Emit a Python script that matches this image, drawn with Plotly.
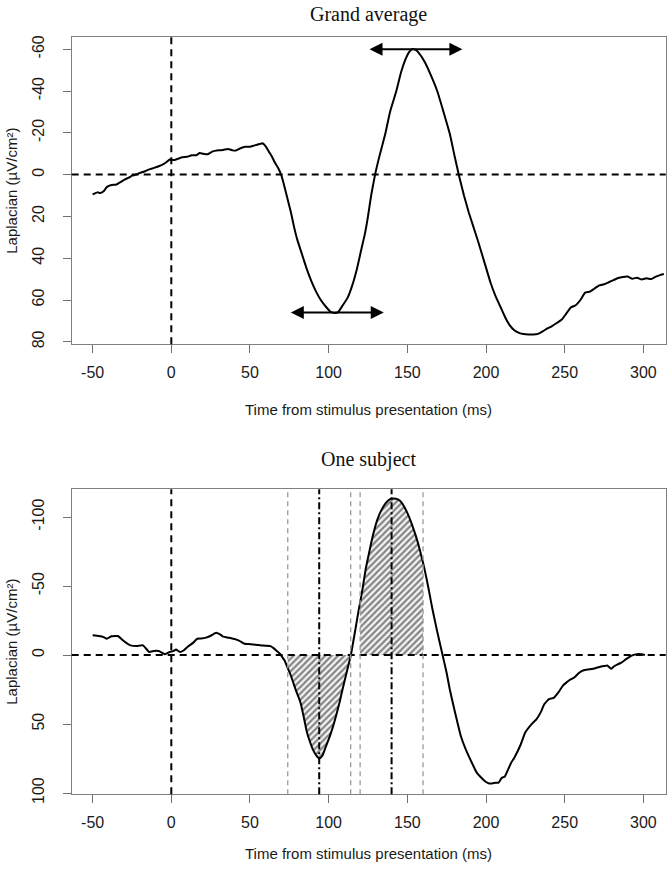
import numpy as np
import plotly.graph_objects as go

# ---------------- data ----------------
ga_time = [-50, -47, -45, -43, -41, -38, -35, -32, -30, -27, -25, -22, -20, -17, -14, -11, -8, -5, -3, -1,
           0, 2, 4, 7, 10, 13, 16, 18, 20, 23, 26, 30, 33, 36, 39, 41, 44, 47, 50, 53, 56, 58,
           60, 62, 64, 66, 68, 70, 72, 74, 76, 78, 80, 83, 86, 89, 92, 95, 98, 101, 104, 106,
           109, 112, 115, 118, 121, 123, 125, 127, 129.5, 132, 136, 139, 143, 146, 149, 151, 153, 155,
           157, 161, 165, 169, 173, 177, 180, 183, 186, 189, 192, 195, 199, 203, 206, 209, 212, 215, 218,
           221, 224, 227, 230, 233, 236, 239, 242, 245, 248, 251, 254, 257, 260, 263, 266, 269, 272,
           275, 278, 281, 284, 287, 290, 293, 296, 299, 302, 305, 308, 311, 313]
ga_value = [9.5, 8.5, 8.8, 8.0, 6.0, 5.0, 4.8, 3.5, 2.5, 1.5, 0.5, -0.2, -0.8, -1.5, -2.5, -3.2, -4.0, -5.0, -6.0, -7.2,
            -7.0, -7.0, -7.5, -8.3, -8.5, -9.3, -9.3, -10.3, -10.0, -9.7, -11.0, -11.6, -11.8, -12.3, -11.6, -11.5, -12.6, -13.3, -13.3, -14.0, -14.6, -15.0,
            -13.5, -11.0, -8.5, -5.5, -3.0, 0.5, 6.0, 12.0, 18.0, 25.0, 31.0, 38.0, 45.0, 51.0, 56.0, 60.0, 63.0, 65.5, 66.2, 65.8,
            62.5, 59.0, 53.0, 45.0, 35.0, 28.5, 20.0, 10.0, 0.0, -8.0, -19.5, -30.0, -40.0, -49.0, -55.5, -58.5, -60.0, -59.8,
            -58.5, -54.0, -47.5, -40.0, -30.0, -19.5, -9.0, 1.0, 10.0, 18.0, 25.0, 32.0, 42.0, 52.0, 58.0, 63.0, 68.0, 72.0, 74.5,
            75.7, 76.3, 76.5, 76.5, 76.2, 75.0, 73.6, 72.5, 71.0, 69.5, 66.5, 63.5, 62.5, 60.0, 56.5, 56.0, 54.5, 53.0,
            52.5, 51.5, 50.5, 49.5, 49.0, 48.8, 49.8, 49.3, 50.2, 49.6, 50.0, 48.8, 48.0, 47.6]

sub_time = [-50, -46, -43, -41, -38, -34, -30, -26, -22, -18, -14, -11, -8, -4, -1, 1.5, 3, 5.5, 8, 11, 14, 16.5,
            19, 22, 25, 28.5, 31, 33, 36, 39.5, 43, 46.5, 49, 52, 55, 57, 60, 63, 65, 67, 69, 70.5, 72,
            74, 76, 79, 82, 84, 86, 88, 90, 92, 94, 96, 98, 101, 104, 107, 109, 112, 114, 117, 119, 121.5,
            123.5, 125.5, 128, 131, 133.5, 136.5, 139, 141.3, 144, 146, 148, 150, 152.5, 155.5, 158, 161, 163.5,
            166, 169, 172, 175, 177, 180, 184, 187, 191, 194, 198, 200, 202, 204, 206, 208, 210, 212, 214, 216,
            218, 222, 225, 229, 232, 235, 237, 240, 243, 246, 249, 251, 254, 256, 259, 262, 264.5, 268, 272.7,
            275, 277, 279.5, 281, 283.6, 286, 289, 291, 293, 295, 297, 299, 301]
sub_value = [-14.3, -13.8, -13.0, -11.8, -13.6, -13.8, -10.0, -7.0, -6.5, -7.0, -2.2, -3.0, -2.9, -0.5, -2.2, -3.0, -4.0, -2.2, -3.5, -6.5, -9.0, -11.8,
             -12.0, -12.6, -14.0, -16.2, -15.0, -13.3, -12.6, -11.8, -10.5, -8.2, -8.0, -7.7, -7.3, -7.0, -6.8, -6.5, -5.0, -3.0, -1.0, 1.5, 4.0,
             9.5, 15.0, 25.0, 34.0, 44.0, 55.0, 62.5, 68.5, 72.5, 75.0, 73.0, 67.0, 58.0, 47.0, 34.0, 24.0, 10.0, 0.7, -18.6, -32.0, -47.6,
             -62.0, -73.0, -86.0, -98.3, -105.0, -110.5, -113.0, -113.5, -112.8, -111.0, -107.5, -103.0, -96.0, -86.0, -76.0, -62.0, -48.0,
             -33.0, -17.0, -2.0, 13.0, 25.0, 40.0, 58.7, 68.0, 78.0, 85.0, 90.0, 92.0, 93.0, 93.0, 92.5, 92.5, 89.0, 88.0, 83.0, 78.0,
             74.4, 65.0, 56.0, 50.0, 46.6, 41.0, 35.7, 32.0, 31.0, 27.0, 22.0, 20.0, 17.5, 16.4, 13.0, 11.0, 10.4, 10.0, 8.5,
             8.0, 7.5, 10.0, 8.5, 6.8, 5.5, 3.0, 1.5, 0.2, -0.5, -0.8, -0.5, 0.0]

x_tickvals = [-50, 0, 50, 100, 150, 200, 250, 300]
x_ticktext = ["-50", "0", "50", "100", "150", "200", "250", "300"]
ga_tickvals = [-60, -40, -20, 0, 20, 40, 60, 80]
ga_ticktext = ["-60", "-40", "-20", "0", "20", "40", "60", "80"]
sub_tickvals = [-100, -50, 0, 50, 100]
sub_ticktext = ["-100", "-50", "0", "50", "100"]

window_bounds = [74, 114, 120, 160]          # thin grey dashed lines
peak_latencies = [94, 140]                   # dash-dot lines
hatch_windows = [(74, 114), (120, 160)]      # shaded areas
arrow_windows = [(75, 135, 66), (125, 185, -60)]  # (start, end, level) double arrows

titles = ["Grand average", "One subject"]
x_title = "Time from stimulus presentation (ms)"
y_title = "Laplacian (µV/cm²)"

# ---------------- figure ----------------
W, H = 672, 871
fig = go.Figure()

line_style = dict(color="black", width=2, shape="spline", smoothing=0.4)

fig.add_trace(go.Scatter(x=ga_time, y=ga_value, mode="lines", line=line_style,
                         xaxis="x", yaxis="y", showlegend=False, hoverinfo="skip"))

# hatched areas (bottom panel)
st = np.array(sub_time, dtype=float)
sv = np.array(sub_value, dtype=float)
for a, b in hatch_windows:
    inside = (st > a) & (st < b)
    tt = np.concatenate([[a], st[inside], [b]])
    vv = np.interp(tt, st, sv)
    fig.add_trace(go.Scatter(x=tt, y=vv, mode="lines", fill="tozeroy",
                             line=dict(width=0, color="rgba(0,0,0,0)", shape="spline", smoothing=0.4),
                             fillcolor="white",
                             fillpattern=dict(shape="/", fgcolor="#858585", bgcolor="#f6f6f6",
                                              size=4.5, solidity=0.5),
                             xaxis="x2", yaxis="y2", showlegend=False, hoverinfo="skip"))

fig.add_trace(go.Scatter(x=sub_time, y=sub_value, mode="lines", line=line_style,
                         xaxis="x2", yaxis="y2", showlegend=False, hoverinfo="skip"))

# ---------------- axes ----------------
x_dom = [71.7 / W, 665.7 / W]
top_dom = [1 - 344.3 / H, 1 - 37.3 / H]
bot_dom = [1 - 794.3 / H, 1 - 489.3 / H]

tick_font = dict(family="Liberation Sans, Arial, sans-serif", size=16, color="#1a1a1a")
common_axis = dict(showline=True, linecolor="#808080", linewidth=1, mirror=True,
                   ticks="outside", ticklen=8, tickcolor="#707070", tickwidth=1,
                   showgrid=False, zeroline=False, tickfont=tick_font, fixedrange=True,
                   automargin=False)

fig.update_layout(
    template="none",
    width=W, height=H, autosize=False,
    margin=dict(l=0, r=0, t=0, b=0, pad=0),
    paper_bgcolor="white", plot_bgcolor="white",
    xaxis=dict(domain=x_dom, anchor="y", range=[-63.3, 314.2],
               tickvals=x_tickvals, ticktext=x_ticktext, ticklabelstandoff=5, **common_axis),
    yaxis=dict(domain=top_dom, anchor="x", range=[81.2, -65.7],
               tickvals=ga_tickvals, ticktext=ga_ticktext, tickangle=-90,
               ticklabelstandoff=12, **common_axis),
    xaxis2=dict(domain=x_dom, anchor="y2", range=[-63.3, 314.2],
                tickvals=x_tickvals, ticktext=x_ticktext, ticklabelstandoff=5, **common_axis),
    yaxis2=dict(domain=bot_dom, anchor="x2", range=[100.9, -120.1],
                tickvals=sub_tickvals, ticktext=sub_ticktext, tickangle=-90,
                ticklabelstandoff=12, **common_axis),
)

# ---------------- reference lines ----------------
shapes = []
dash_black = dict(color="black", width=2, dash="7px,5px")
for xa, ya in [("x", "y"), ("x2", "y2")]:
    shapes.append(dict(type="line", xref=xa, yref=ya + " domain", x0=0, x1=0, y0=0, y1=1,
                       line=dash_black, layer="above"))
    shapes.append(dict(type="line", xref=xa + " domain", yref=ya, x0=0, x1=1, y0=0, y1=0,
                       line=dash_black, layer="above"))
for t in window_bounds:
    shapes.append(dict(type="line", xref="x2", yref="y2 domain", x0=t, x1=t, y0=0, y1=1,
                       line=dict(color="#9a9a9a", width=1.3, dash="5px,4px"), layer="above"))
for t in peak_latencies:
    shapes.append(dict(type="line", xref="x2", yref="y2 domain", x0=t, x1=t, y0=0, y1=1,
                       line=dict(color="black", width=2, dash="7px,3px,2px,3px"), layer="above"))
fig.update_layout(shapes=shapes)

# ---------------- annotations ----------------
ann = []
for (a, b, lvl) in arrow_windows:
    ann.append(dict(x=b, y=lvl, ax=a, ay=lvl, xref="x", yref="y", axref="x", ayref="y",
                    text="", showarrow=True, arrowhead=2, startarrowhead=2,
                    arrowside="end+start", arrowsize=1.3, startarrowsize=1.3,
                    arrowwidth=2, arrowcolor="black"))

title_font = dict(family="Liberation Serif, Times New Roman, serif", size=20, color="#111")
ann.append(dict(text=titles[0], x=(x_dom[0] + x_dom[1]) / 2, y=1 - 14 / H, xref="paper", yref="paper",
                showarrow=False, font=title_font, xanchor="center", yanchor="middle"))
ann.append(dict(text=titles[1], x=(x_dom[0] + x_dom[1]) / 2, y=1 - 459 / H, xref="paper", yref="paper",
                showarrow=False, font=title_font, xanchor="center", yanchor="middle"))

lab_font = dict(family="Liberation Sans, Arial, sans-serif", size=15, color="#1a1a1a")
for yc in [410, 853]:
    ann.append(dict(text=x_title, x=(x_dom[0] + x_dom[1]) / 2, y=1 - yc / H, xref="paper", yref="paper",
                    showarrow=False, font=lab_font, xanchor="center", yanchor="middle"))
for dom in [top_dom, bot_dom]:
    ann.append(dict(text=y_title, x=12 / W, y=(dom[0] + dom[1]) / 2, xref="paper", yref="paper",
                    showarrow=False, font=lab_font, textangle=-90, xanchor="center", yanchor="middle"))
fig.update_layout(annotations=ann)

# remove the browser's default 8px body margin so the figure sits at the page origin
fig.write_html("out.html", config={"displayModeBar": False},
               post_script="document.body.style.margin='0';document.body.style.padding='0';")
